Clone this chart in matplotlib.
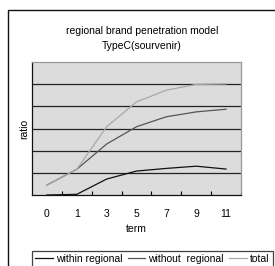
import matplotlib

matplotlib.use("Agg")
import matplotlib.pyplot as plt
from matplotlib.patches import Rectangle
import numpy as np

plt.rcParams["font.family"] = ["Liberation Sans", "DejaVu Sans"]

# ── data ────────────────────────────────────────────────────────
terms = ["0", "1", "3", "5", "7", "9", "11"]
within_regional = [0.00, 0.03, 0.72, 1.08, 1.20, 1.30, 1.17]
without_regional = [0.45, 1.16, 2.30, 3.08, 3.53, 3.75, 3.87]
total = [0.45, 1.16, 3.08, 4.20, 4.73, 4.99, 5.01]

W, H = 275, 266
fig = plt.figure(figsize=(W / 100, H / 100), dpi=100)
ax = fig.add_axes([32 / W, 1 - 195 / H, (241 - 32) / W, (195 - 62) / H])
ax.set_facecolor("#dcdcdc")

x = np.arange(len(terms))
ax.plot(x, within_regional, color="#111111", lw=0.9, label="within regional")
ax.plot(x, without_regional, color="#555555", lw=0.9, label="without  regional")
ax.plot(x, total, color="#a8a8a8", lw=0.9, label="total")

ax.set_xlim(-0.5, len(terms) - 0.5)
ax.set_ylim(0, 6)
for yv in range(1, 6):
    ax.axhline(yv, color="#222222", lw=0.9, zorder=1)

ax.set_xticks(x)
ax.set_xticklabels(terms, fontsize=7.5)
ax.set_xticks(np.arange(0.5, len(terms)), minor=True)
ax.tick_params(axis="x", which="major", length=0, pad=10)
ax.tick_params(axis="x", which="minor", direction="in", length=3, width=0.8)
ax.set_yticks([])
ax.set_xlabel("term", fontsize=7.5, labelpad=4)
ax.set_ylabel("ratio", fontsize=7.5, labelpad=2)

ax.spines["left"].set_color("#111111")
ax.spines["bottom"].set_color("#111111")
ax.spines["top"].set_color("#999999")
ax.spines["right"].set_color("#999999")
for s in ax.spines.values():
    s.set_linewidth(0.9)

fig.text(142 / W, 1 - 31 / H, "regional brand penetration model",
         ha="center", va="center", fontsize=7.5)
fig.text(142 / W, 1 - 46 / H, "TypeC(sourvenir)",
         ha="center", va="center", fontsize=7.5)

# outer frame around the whole figure
fig.patches.append(Rectangle((8 / W, -0.1), 1.2, 1.1 - 10 / H,
                             transform=fig.transFigure, fill=False,
                             edgecolor="#111111", lw=1))

leg = fig.legend(loc="upper left", bbox_to_anchor=(32 / W, 1 - 251 / H),
                 ncol=3, fontsize=7.5, frameon=True, fancybox=False,
                 handlelength=1.7, handletextpad=0.3, columnspacing=0.5,
                 borderpad=0.3, borderaxespad=0)
leg.get_frame().set_edgecolor("#111111")
leg.get_frame().set_linewidth(0.9)

fig.savefig("out.png", dpi=100)
